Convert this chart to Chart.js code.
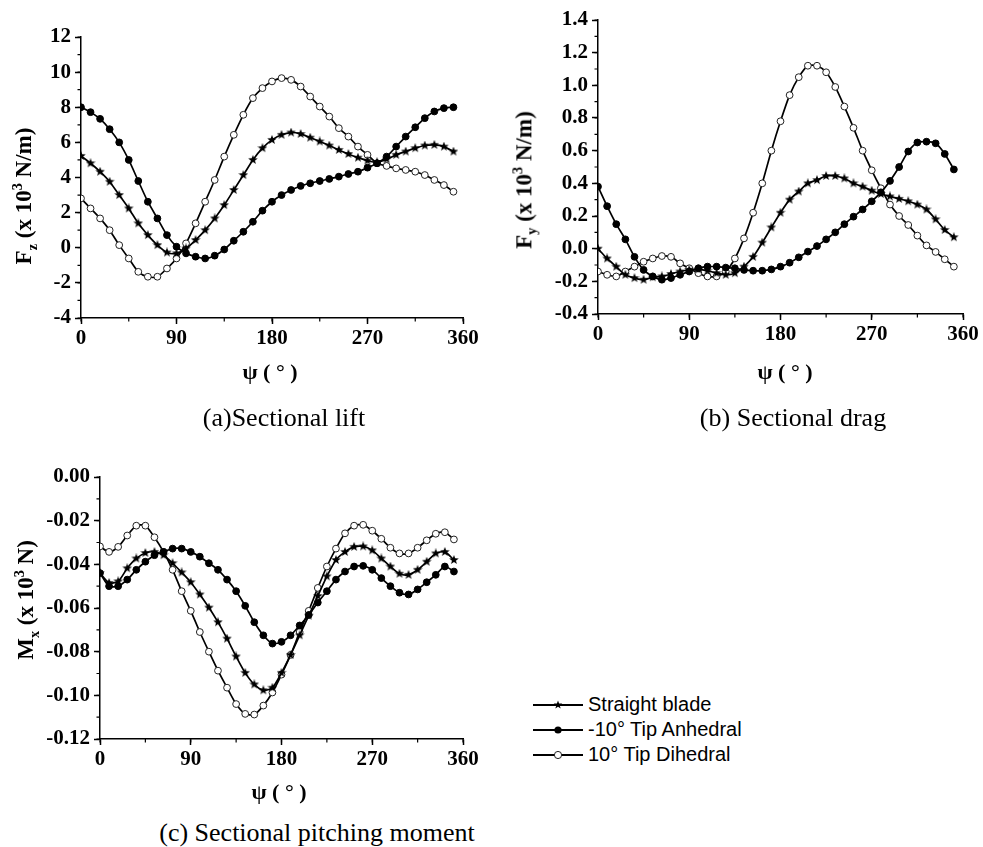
<!DOCTYPE html>
<html>
<head>
<meta charset="utf-8">
<script src="https://cdn.jsdelivr.net/npm/chart.js@4/dist/chart.umd.min.js"></script>
<style>
  body { margin: 0; background: #fff; width: 983px; height: 847px; position: relative; overflow: hidden; font-family: "Liberation Serif", serif; color: #000; }
  canvas { position: absolute; }
  .ytitle { position: absolute; transform: translate(-50%, -50%) rotate(-90deg); white-space: nowrap; font-weight: bold; font-size: 23px; }
  .xtitle { position: absolute; transform: translate(-50%, -50%); white-space: nowrap; font-weight: bold; font-size: 22px; }
  .caption { position: absolute; transform: translate(-50%, -50%); white-space: nowrap; font-size: 26px; }
  sub, sup { font-size: 0.62em; }
  #legend { position: absolute; left: 533px; top: 692px; font-family: "Liberation Sans", Arial, sans-serif; font-size: 20px; }
  #legend div { height: 25px; line-height: 25px; display: flex; align-items: center; }
  #legend svg { margin-right: 5px; }
</style>
</head>
<body>

<canvas id="lift" width="483" height="360" style="left:0;top:0"></canvas>
<canvas id="drag" width="503" height="360" style="left:480px;top:0"></canvas>
<canvas id="moment" width="483" height="340" style="left:0;top:440px"></canvas>

<div class="ytitle" style="left:25px;top:196px">F<sub>z</sub> (x 10<sup>3</sup> N/m)</div>
<div class="ytitle" style="left:525px;top:180px">F<sub>y</sub> (x 10<sup>3</sup> N/m)</div>
<div class="ytitle" style="left:27px;top:600px">M<sub>x</sub> (x 10<sup>3</sup> N)</div>

<div class="xtitle" style="left:270px;top:372px">ψ ( ° )</div>
<div class="xtitle" style="left:785px;top:372px">ψ ( ° )</div>
<div class="xtitle" style="left:279px;top:792px">ψ ( ° )</div>

<div class="caption" style="left:284px;top:418px">(a)Sectional lift</div>
<div class="caption" style="left:793px;top:418px">(b) Sectional drag</div>
<div class="caption" style="left:317px;top:833px">(c) Sectional pitching moment</div>

<div id="legend"></div>

<script>
// azimuth, every 9 deg
const psi = [0, 9, 18, 27, 36, 45, 54, 63, 72, 81, 90, 99, 108, 117, 126, 135, 144, 153, 162, 171,
             180, 189, 198, 207, 216, 225, 234, 243, 252, 261, 270, 279, 288, 297, 306, 315, 324, 333, 342, 351];

const names = ['Straight blade', '-10° Tip Anhedral', '10° Tip Dihedral'];

// (a) sectional lift
const liftStraight = [5.23, 4.81, 4.33, 3.76, 3.0, 2.24, 1.39, 0.72, 0.15, -0.27, -0.32, -0.04, 0.44, 1.0, 1.67, 2.43, 3.29, 4.14, 5.0, 5.67,
                      6.14, 6.43, 6.56, 6.48, 6.27, 6.05, 5.82, 5.57, 5.34, 5.13, 4.96, 4.87, 5.04, 5.29, 5.48, 5.67, 5.82, 5.86, 5.76, 5.48];
const liftAnhedral = [8.0, 7.72, 7.34, 6.75, 6.0, 5.0, 3.8, 2.62, 1.67, 0.72, 0.06, -0.32, -0.51, -0.61, -0.45, -0.1, 0.4, 0.91, 1.48, 2.11,
                      2.62, 3.0, 3.29, 3.52, 3.67, 3.8, 3.92, 4.05, 4.2, 4.33, 4.56, 4.81, 5.19, 5.76, 6.33, 6.86, 7.38, 7.76, 7.95, 8.0];
const liftDihedral = [2.81, 2.24, 1.67, 1.0, 0.15, -0.61, -1.37, -1.65, -1.65, -1.18, -0.61, 0.25, 1.39, 2.62, 3.86, 5.19, 6.43, 7.57, 8.52, 9.09,
                      9.47, 9.66, 9.56, 9.18, 8.61, 8.04, 7.47, 6.81, 6.33, 5.76, 5.29, 4.81, 4.66, 4.52, 4.43, 4.33, 4.14, 3.86, 3.57, 3.19];

// (b) sectional drag
const dragStraight = [0.0, -0.06, -0.11, -0.16, -0.18, -0.19, -0.175, -0.17, -0.155, -0.14, -0.13, -0.127, -0.135, -0.15, -0.16, -0.15, -0.11, -0.05, 0.037, 0.13,
                      0.22, 0.3, 0.35, 0.4, 0.42, 0.445, 0.445, 0.43, 0.4, 0.38, 0.355, 0.335, 0.32, 0.305, 0.29, 0.27, 0.24, 0.18, 0.115, 0.07];
const dragAnhedral = [0.38, 0.26, 0.15, 0.057, -0.05, -0.13, -0.17, -0.19, -0.18, -0.16, -0.14, -0.12, -0.11, -0.11, -0.116, -0.12, -0.13, -0.135, -0.135, -0.127,
                      -0.11, -0.086, -0.053, -0.018, 0.016, 0.057, 0.10, 0.15, 0.196, 0.24, 0.29, 0.345, 0.415, 0.50, 0.595, 0.65, 0.655, 0.645, 0.58, 0.485];
const dragDihedral = [-0.14, -0.16, -0.17, -0.14, -0.11, -0.08, -0.06, -0.045, -0.05, -0.09, -0.12, -0.15, -0.17, -0.17, -0.14, -0.06, 0.063, 0.22, 0.4, 0.6,
                      0.78, 0.94, 1.05, 1.12, 1.12, 1.08, 0.99, 0.87, 0.74, 0.6, 0.48, 0.37, 0.27, 0.2, 0.145, 0.08, 0.02, -0.02, -0.065, -0.11];

// (c) sectional pitching moment
const momentStraight = [-0.044, -0.0485, -0.0478, -0.0418, -0.0373, -0.0348, -0.0343, -0.0358, -0.0395, -0.0437, -0.0482, -0.0538, -0.0598, -0.0665, -0.074, -0.0822, -0.0897, -0.095, -0.0977, -0.0965,
                        -0.0897, -0.0815, -0.0725, -0.0635, -0.0545, -0.0455, -0.038, -0.0343, -0.032, -0.0318, -0.0336, -0.0373, -0.041, -0.0443, -0.0448, -0.0425, -0.0388, -0.035, -0.0343, -0.038];
const momentAnhedral = [-0.044, -0.05, -0.05, -0.047, -0.0425, -0.0388, -0.0358, -0.0343, -0.0328, -0.0328, -0.0343, -0.0365, -0.0395, -0.0425, -0.047, -0.0523, -0.059, -0.0665, -0.0725, -0.0763,
                        -0.0755, -0.0725, -0.068, -0.0632, -0.0575, -0.0523, -0.047, -0.0433, -0.041, -0.0407, -0.0425, -0.0463, -0.05, -0.053, -0.0538, -0.0515, -0.0482, -0.0448, -0.041, -0.0433];
const momentDihedral = [-0.0318, -0.0343, -0.032, -0.0268, -0.0223, -0.0223, -0.0276, -0.0343, -0.0425, -0.0523, -0.0613, -0.071, -0.08, -0.0887, -0.0965, -0.104, -0.1085, -0.1088, -0.1047, -0.0987,
                        -0.0905, -0.0815, -0.071, -0.0613, -0.0508, -0.041, -0.0328, -0.0258, -0.0223, -0.0219, -0.0246, -0.0283, -0.0324, -0.035, -0.035, -0.0324, -0.029, -0.026, -0.0253, -0.0286];

// small filled star used as point style
function makeStar(size) {
    const c = document.createElement('canvas');
    c.width = size;
    c.height = size;
    const g = c.getContext('2d');
    const r = size / 2;
    g.beginPath();
    for (let i = 0; i < 10; i++) {
        const a = -Math.PI / 2 + i * Math.PI / 5;
        const rr = i % 2 ? r * 0.42 : r;
        g.lineTo(r + rr * Math.cos(a), r + rr * Math.sin(a));
    }
    g.closePath();
    g.fillStyle = '#000';
    g.fill();
    return c;
}
const star = makeStar(10);

function xy(vals) {
    return psi.map((p, i) => ({ x: p, y: vals[i] }));
}

function makeSets(straight, anhedral, dihedral) {
    return [
        { label: names[0], data: xy(straight), borderColor: '#000', borderWidth: 1.7, pointStyle: star, pointRadius: 4 },
        { label: names[1], data: xy(anhedral), borderColor: '#000', borderWidth: 1.7, pointStyle: 'circle', pointRadius: 3.4,
          pointBackgroundColor: '#000', pointBorderColor: '#000', pointBorderWidth: 1 },
        { label: names[2], data: xy(dihedral), borderColor: '#000', borderWidth: 1.7, pointStyle: 'circle', pointRadius: 3.4,
          pointBackgroundColor: '#fff', pointBorderColor: '#222', pointBorderWidth: 1 }
    ];
}

// short minor ticks between the labelled ones
const minorTicks = {
    id: 'minorTicks',
    afterDraw(chart, args, opts) {
        const ctx = chart.ctx;
        const xs = chart.scales.x;
        const ys = chart.scales.y;
        ctx.save();
        ctx.strokeStyle = '#000';
        ctx.lineWidth = 1.2;
        ctx.beginPath();
        for (let v = xs.min; v <= xs.max + 1e-9; v += opts.x) {
            const px = xs.getPixelForValue(v);
            ctx.moveTo(px, ys.bottom);
            ctx.lineTo(px, ys.bottom + 3.5);
        }
        for (let v = ys.min; v <= ys.max + 1e-9; v += opts.y) {
            const py = ys.getPixelForValue(v);
            ctx.moveTo(xs.left, py);
            ctx.lineTo(xs.left - 3.5, py);
        }
        ctx.stroke();
        ctx.restore();
    }
};

const tickFont = { family: 'Liberation Serif', size: 21, weight: 'bold' };

function makeChart(id, sets, ymin, ymax, ystep, dec, minorY, yWidth, xHeight, pad) {
    new Chart(document.getElementById(id), {
        type: 'line',
        data: { datasets: sets },
        options: {
            responsive: false,
            animation: false,
            devicePixelRatio: 1,
            layout: { padding: pad },
            plugins: {
                legend: { display: false },
                tooltip: { enabled: false },
                minorTicks: { x: 45, y: minorY }
            },
            elements: { line: { tension: 0.25 } },
            scales: {
                x: {
                    type: 'linear', min: 0, max: 360,
                    ticks: { stepSize: 90, padding: 2, color: '#000', font: tickFont, maxRotation: 0 },
                    grid: { drawOnChartArea: false, tickLength: 6, tickColor: '#000', tickWidth: 1.5 },
                    border: { color: '#000', width: 1.5 },
                    afterFit: s => { s.height = xHeight; }
                },
                y: {
                    min: ymin, max: ymax,
                    ticks: { stepSize: ystep, padding: 4, color: '#000', font: tickFont,
                             callback: v => (Math.abs(v) < 1e-9 ? 0 : v).toFixed(dec) },
                    grid: { drawOnChartArea: false, tickLength: 6, tickColor: '#000', tickWidth: 1.5 },
                    border: { color: '#000', width: 1.5 },
                    afterFit: s => { s.width = yWidth; }
                }
            }
        },
        plugins: [minorTicks]
    });
}

makeChart('lift', makeSets(liftStraight, liftAnhedral, liftDihedral), -4, 12, 2, 0, 1, 81, 42,
          { top: 37, right: 20, left: 0, bottom: 0 });
makeChart('drag', makeSets(dragStraight, dragAnhedral, dragDihedral), -0.4, 1.4, 0.2, 1, 0.1, 118, 46,
          { top: 20, right: 20, left: 0, bottom: 0 });
makeChart('moment', makeSets(momentStraight, momentAnhedral, momentDihedral), -0.12, 0, 0.02, 2, 0.01, 100, 41,
          { top: 37, right: 20, left: 0, bottom: 0 });

// legend, drawn once below-right of panel (c)
const legend = document.getElementById('legend');
names.forEach((name, i) => {
    let mark;
    if (i === 0) {
        mark = '<polygon fill="#000" points="25,0.5 26.1,3.6 29.3,3.6 26.7,5.5 27.7,8.6 25,6.7 22.3,8.6 23.3,5.5 20.7,3.6 23.9,3.6"/>';
    } else if (i === 1) {
        mark = '<circle cx="25" cy="5" r="3.6" fill="#000"/>';
    } else {
        mark = '<circle cx="25" cy="5" r="3.6" fill="#fff" stroke="#222" stroke-width="1"/>';
    }
    const row = document.createElement('div');
    row.innerHTML = '<svg width="50" height="10"><line x1="0" y1="5" x2="50" y2="5" stroke="#000" stroke-width="2.2"/>' + mark + '</svg>' + name;
    legend.appendChild(row);
});
</script>
</body>
</html>
